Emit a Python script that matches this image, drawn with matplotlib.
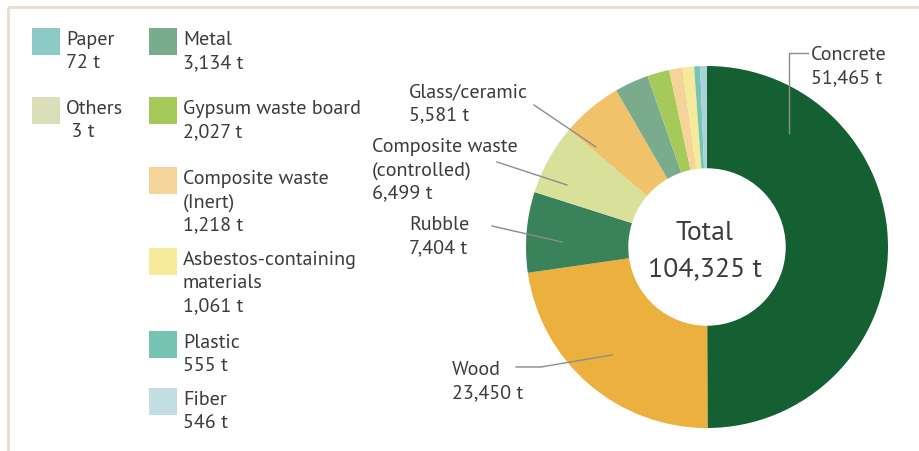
import matplotlib
matplotlib.use("Agg")
import matplotlib.pyplot as plt
from matplotlib.patches import Rectangle

plt.rcParams['font.family'] = ['PT Sans', 'DejaVu Sans']

# Construction waste by material (tonnes), clockwise from 12 o'clock
materials = ['Concrete', 'Wood', 'Rubble', 'Composite waste\n(controlled)', 'Glass/ceramic',
             'Metal', 'Gypsum waste board', 'Composite waste\n(Inert)',
             'Asbestos-containing\nmaterials', 'Plastic', 'Fiber', 'Paper', 'Others']
tonnes = [51465, 23450, 7404, 6499, 5581, 3134, 2027, 1218, 1061, 555, 546, 72, 3]
colors = ['#156032', '#ebb03e', '#3a8259', '#d9e09a', '#f0c36a', '#7aab8c', '#a6ca5a',
          '#f5d49a', '#f5e99a', '#77c4b2', '#a9d2da', '#8ecbc7', '#dadfb9']
total_tonnes = 104325

TEXT = '#3c3c3c'
LEADER = '#8c8c8c'
FS = 14.5

W, H = 920, 451
fig = plt.figure(figsize=(W / 100, H / 100), dpi=100)

# donut
cx, cy, R = 707, 247, 181
pie_ax = fig.add_axes([(cx - R) / W, 1 - (cy + R) / H, 2 * R / W, 2 * R / H])
pie_ax.pie(tonnes, colors=colors, startangle=90, counterclock=False,
           wedgeprops=dict(width=0.565, linewidth=0))
pie_ax.set_xlim(-1, 1)
pie_ax.set_ylim(-1, 1)
pie_ax.axis('off')

# overlay in pixel coordinates for labels, legend and frame
ax = fig.add_axes([0, 0, 1, 1], facecolor='none')
ax.set_xlim(0, W)
ax.set_ylim(H, 0)
ax.axis('off')

ax.plot([8, W], [6.5, 6.5], color='#e6ddcb', lw=2, solid_capstyle='butt')
ax.plot([8, 8], [6.5, H], color='#e6ddcb', lw=2, solid_capstyle='butt')


def value_text(v):
    return f"{v:>2,} t" if v < 10 else f"{v:,} t"


def block(x, y, lines, **kw):
    for i, line in enumerate(lines):
        ax.text(x, y + i * 23.3, line, ha='left', va='baseline',
                fontsize=FS, color=TEXT, **kw)


# legend for the small slices: swatch left, swatch top
legend_slots = {
    'Paper': (32, 28), 'Others': (32, 97),
    'Metal': (149, 28), 'Gypsum waste board': (149, 97),
    'Composite waste\n(Inert)': (149, 167), 'Asbestos-containing\nmaterials': (149, 248),
    'Plastic': (149, 331), 'Fiber': (149, 388),
}
for name, (sx, sy) in legend_slots.items():
    i = materials.index(name)
    c = '#c2dde3' if name == 'Fiber' else colors[i]
    ax.add_patch(Rectangle((sx, sy), 28, 27, facecolor=c, edgecolor='none'))
    block(sx + 34, sy + 17, name.split('\n') + [value_text(tonnes[i])])

# labels around the donut: text position and leader path
pie_labels = {
    'Concrete': ((811, 60), [(808, 53), (789, 53), (789, 133)]),
    'Glass/ceramic': ((409, 97), [(534, 105), (596, 147)]),
    'Composite waste\n(controlled)': ((372, 152), [(497, 162), (567, 185)]),
    'Rubble': ((409, 230), [(492, 226), (562, 242)]),
    'Wood': ((452, 375), [(516, 367), (541, 367), (612, 355)]),
}
for name, ((tx, ty), path) in pie_labels.items():
    i = materials.index(name)
    block(tx, ty, name.split('\n') + [value_text(tonnes[i])])
    xs, ys = zip(*path)
    ax.plot(xs, ys, color=LEADER, lw=1)

ax.text(cx - 2, 240, 'Total', ha='center', va='baseline', fontsize=20, color=TEXT)
ax.text(cx - 2, 276, f"{total_tonnes:,} t", ha='center', va='baseline', fontsize=20, color=TEXT)

fig.savefig('out.png', dpi=100)
